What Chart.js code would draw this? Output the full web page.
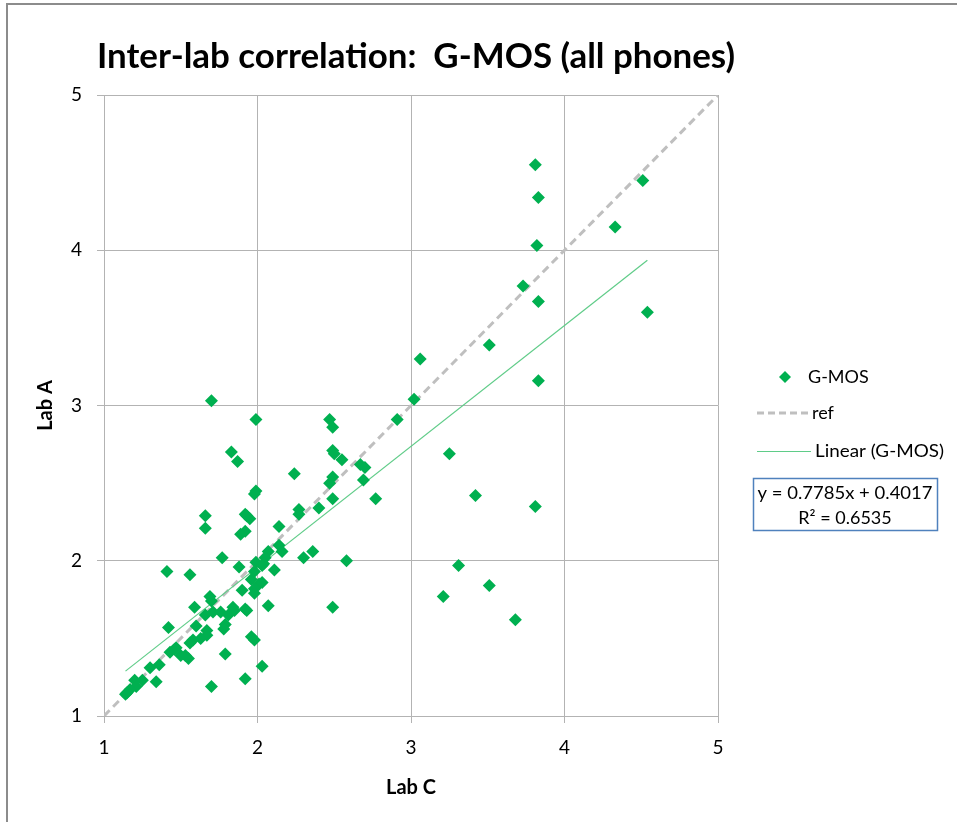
<!DOCTYPE html>
<html lang="en">
<head>
    <meta charset="UTF-8">
    <title>Inter-lab correlation: G-MOS (all phones)</title>
    <script src="https://cdn.jsdelivr.net/npm/chart.js"></script>
    <style>
        body { margin: 0; background: #fff; }
        #wrap { position: relative; width: 957px; height: 822px; }
    </style>
</head>
<body>
<div id="wrap">
    <canvas id="chart" width="957" height="822"></canvas>
</div>
<script>
    // Lab C (x) and Lab A (y) G-MOS values
    const labC = [
        3.81, 3.83, 3.82, 3.73, 3.83, 3.83, 3.81, 4.51, 4.33, 4.54,
        3.06, 3.51, 3.02, 2.91, 3.25, 3.42, 3.31, 3.51, 3.21, 3.68,
        1.70, 1.99, 2.47, 2.49, 1.83, 1.87, 2.49, 2.50, 2.55, 2.67,
        2.70, 2.24, 2.49, 2.47, 2.69, 1.99, 1.98, 2.49, 2.77, 2.40,
        2.27, 2.27, 1.66, 1.66, 1.92, 1.93, 1.95, 2.14, 1.92, 1.89,
        2.14, 2.16, 2.07, 2.36, 2.30, 2.58, 1.77, 2.05, 1.99, 2.03,
        1.88, 1.41, 1.56, 2.11, 2.04, 1.98, 1.96, 2.01, 2.03, 1.98,
        1.98, 1.90, 2.07, 1.93, 1.92, 1.84, 1.85, 1.69, 1.70, 1.59,
        1.71, 1.76, 1.81, 1.66, 1.79, 1.78, 1.60, 1.67, 1.67, 1.63,
        1.58, 1.56, 1.96, 1.98, 1.42, 1.43, 1.47, 1.50, 1.46, 1.55,
        1.53, 1.79, 1.36, 1.30, 1.34, 1.25, 1.20, 1.21, 1.17, 1.14,
        1.15, 2.03, 1.92, 1.70, 2.49
    ];
    const labA = [
        4.55, 4.34, 4.03, 3.77, 3.67, 3.16, 2.35, 4.45, 4.15, 3.60,
        3.30, 3.39, 3.04, 2.91, 2.69, 2.42, 1.97, 1.84, 1.77, 1.62,
        3.03, 2.91, 2.91, 2.86, 2.70, 2.64, 2.71, 2.69, 2.65, 2.62,
        2.60, 2.56, 2.54, 2.50, 2.52, 2.45, 2.43, 2.40, 2.40, 2.34,
        2.33, 2.30, 2.29, 2.21, 2.30, 2.29, 2.27, 2.22, 2.19, 2.17,
        2.10, 2.06, 2.06, 2.06, 2.02, 2.00, 2.02, 2.02, 1.99, 1.97,
        1.96, 1.93, 1.91, 1.94, 1.98, 1.93, 1.88, 1.85, 1.86, 1.82,
        1.79, 1.81, 1.71, 1.68, 1.69, 1.70, 1.68, 1.77, 1.74, 1.70,
        1.67, 1.67, 1.65, 1.65, 1.59, 1.56, 1.58, 1.55, 1.52, 1.50,
        1.49, 1.47, 1.51, 1.49, 1.57, 1.41, 1.44, 1.39, 1.43, 1.37,
        1.39, 1.40, 1.33, 1.31, 1.22, 1.23, 1.23, 1.19, 1.17, 1.14,
        1.15, 1.32, 1.24, 1.19, 1.70
    ];
    const refLine = [1, 5];
    const axisTicks = [1, 2, 3, 4, 5];
    const slope = 0.7785;
    const intercept = 0.4017;
    const rSquared = 0.6535;

    const points = labC.map((x, i) => ({ x: x, y: labA[i] }));
    const xMin = Math.min(...labC);
    const xMax = Math.max(...labC);
    const trend = [xMin, xMax].map(x => ({ x: x, y: slope * x + intercept }));

    const GREEN = '#00b050';
    const FONT = 'Lato, "Open Sans", sans-serif';

    // draw text squeezed/stretched to a given width (title is a narrow face in the original)
    function fitText(c, text, cx, cy, width) {
        const w = c.measureText(text).width;
        c.save();
        c.translate(cx, cy);
        c.scale(width / w, 1);
        c.fillText(text, 0, 0);
        c.restore();
    }

    // title, frame, legend and equation box
    const decor = {
        id: 'decor',
        beforeDraw(chart) {
            const c = chart.ctx;
            c.save();
            c.fillStyle = '#fff';
            c.fillRect(0, 0, chart.width, chart.height);
            c.strokeStyle = '#8c8c8c';
            c.lineWidth = 2;
            c.beginPath();
            c.moveTo(7, 822);
            c.lineTo(7, 4);
            c.lineTo(957, 4);
            c.stroke();
            c.restore();
        },
        afterDraw(chart) {
            const c = chart.ctx;
            c.save();
            c.fillStyle = '#000';
            c.textBaseline = 'middle';
            c.textAlign = 'center';
            c.font = 'bold 35px ' + FONT;
            fitText(c, 'Inter-lab correlation:  G-MOS (all phones)', 416, 57, 638);

            // legend
            c.font = '18px ' + FONT;
            c.textAlign = 'left';
            c.fillStyle = GREEN;
            c.beginPath();
            c.moveTo(785, 371); c.lineTo(791, 377); c.lineTo(785, 383); c.lineTo(779, 377);
            c.closePath();
            c.fill();
            c.fillStyle = '#000';
            c.fillText('G-MOS', 808, 377);

            c.strokeStyle = '#bfbfbf';
            c.lineWidth = 3;
            c.setLineDash([7, 4]);
            c.beginPath(); c.moveTo(757, 413); c.lineTo(810, 413); c.stroke();
            c.setLineDash([]);
            c.fillText('ref', 812, 413);

            c.strokeStyle = '#5fcc88';
            c.lineWidth = 1;
            c.beginPath(); c.moveTo(757, 451.5); c.lineTo(811, 451.5); c.stroke();
            fitTextLeft(c, 'Linear (G-MOS)', 815, 451, 129);

            // equation box
            c.strokeStyle = '#4f81bd';
            c.lineWidth = 1.5;
            c.strokeRect(753.5, 478.5, 184, 52);
            c.textAlign = 'center';
            fitText(c, 'y = ' + slope + 'x + ' + intercept, 845, 493, 175);
            c.fillText('R\u00b2 = ' + rSquared, 845, 518);
            c.restore();
        }
    };

    function fitTextLeft(c, text, x, y, width) {
        const w = c.measureText(text).width;
        c.save();
        c.translate(x, y);
        c.scale(width / w, 1);
        c.fillText(text, 0, 0);
        c.restore();
    }

    new Chart(document.getElementById('chart'), {
        type: 'scatter',
        data: {
            datasets: [
                {
                    label: 'G-MOS',
                    data: points,
                    pointStyle: 'rectRot',
                    pointRadius: 6.5,
                    pointBorderWidth: 0,
                    backgroundColor: GREEN,
                    borderColor: GREEN,
                    order: 1
                },
                {
                    label: 'ref',
                    type: 'line',
                    data: refLine.map(v => ({ x: v, y: v })),
                    borderColor: '#bfbfbf',
                    borderWidth: 3,
                    borderDash: [8, 5],
                    pointRadius: 0,
                    fill: false,
                    order: 3
                },
                {
                    label: 'Linear (G-MOS)',
                    type: 'line',
                    data: trend,
                    borderColor: '#5fcc88',
                    borderWidth: 1.2,
                    pointRadius: 0,
                    fill: false,
                    order: 2
                }
            ]
        },
        options: {
            responsive: false,
            animation: false,
            layout: { padding: { left: 0, right: 239, top: 95, bottom: 0 } },
            plugins: {
                legend: { display: false },
                tooltip: { enabled: false }
            },
            scales: {
                x: {
                    type: 'linear',
                    min: 1,
                    max: 5,
                    afterFit: s => { s.height = 106; },
                    afterBuildTicks: s => { s.ticks = axisTicks.map(v => ({ value: v })); },
                    grid: { color: '#b3b3b3', lineWidth: 1, tickLength: 7 },
                    border: { color: '#b3b3b3' },
                    ticks: { color: '#000', font: { family: FONT, size: 19 }, padding: 13 },
                    title: {
                        display: true,
                        text: 'Lab C',
                        color: '#000',
                        font: { family: FONT, size: 20, weight: 'bold' },
                        padding: { bottom: 22 }
                    }
                },
                y: {
                    type: 'linear',
                    min: 1,
                    max: 5,
                    afterFit: s => { s.width = 104; },
                    afterBuildTicks: s => { s.ticks = axisTicks.map(v => ({ value: v })); },
                    grid: { color: '#b3b3b3', lineWidth: 1, tickLength: 7 },
                    border: { color: '#b3b3b3' },
                    ticks: { color: '#000', font: { family: FONT, size: 19 }, padding: 15 },
                    title: {
                        display: true,
                        text: 'Lab A',
                        color: '#000',
                        font: { family: FONT, size: 20, weight: 'bold' },
                        padding: { top: 34 }
                    }
                }
            }
        },
        plugins: [decor]
    });
</script>
</body>
</html>
